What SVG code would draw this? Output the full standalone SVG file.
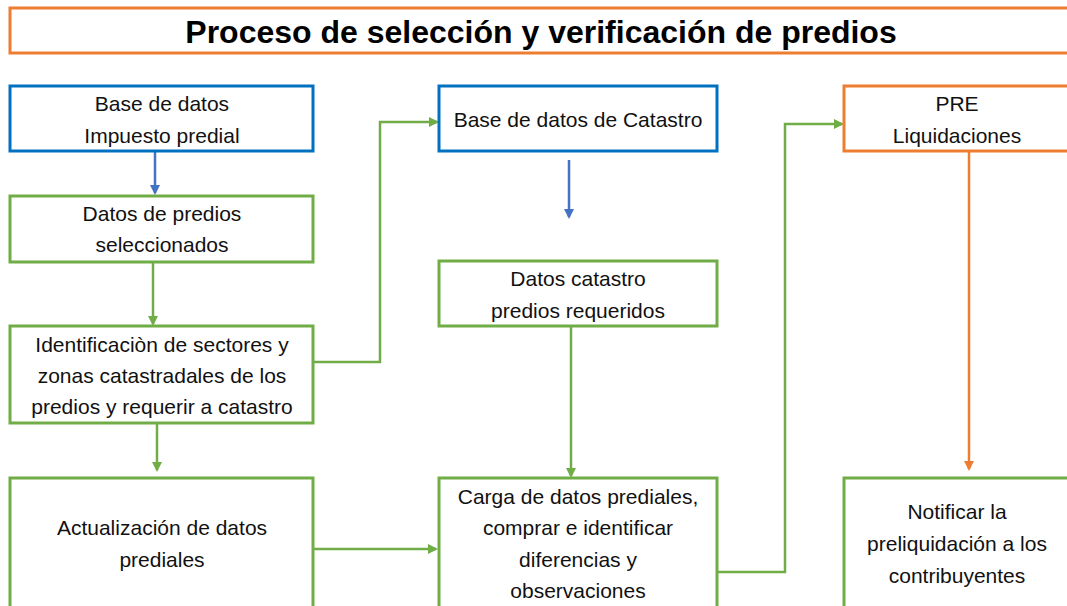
<svg xmlns="http://www.w3.org/2000/svg" width="1067" height="606" viewBox="0 0 1067 606">
<style>
.box{fill:#fff;stroke-width:3}
.b{stroke:#0070C0}
.g{stroke:#70AD47}
.o{stroke:#ED7D31}
.t{font-family:"Liberation Sans",Arial,sans-serif;font-size:21px;fill:#111;text-anchor:middle}
.title{font-family:"Liberation Sans",Arial,sans-serif;font-size:32px;font-weight:bold;fill:#000;text-anchor:middle}
.c{fill:none;stroke-width:2.5}
</style>
<defs>
<marker id="ag" markerWidth="10" markerHeight="10" refX="8" refY="5" orient="auto" markerUnits="userSpaceOnUse"><path d="M0,0 L10,5 L0,10 Z" fill="#70AD47"/></marker>
<marker id="ab" markerWidth="10" markerHeight="10" refX="8" refY="5" orient="auto" markerUnits="userSpaceOnUse"><path d="M0,0 L10,5 L0,10 Z" fill="#4472C4"/></marker>
<marker id="ao" markerWidth="10" markerHeight="10" refX="8" refY="5" orient="auto" markerUnits="userSpaceOnUse"><path d="M0,0 L10,5 L0,10 Z" fill="#ED7D31"/></marker>
</defs>
<rect width="1067" height="606" fill="#fff"/>
<g id="title">
<rect x="10" y="8" width="1075" height="45" fill="#fff" stroke="#ED7D31" stroke-width="3"/>
<text class="title" x="541" y="43">Proceso de selección y verificación de predios</text>
</g>
<g id="connectors">
<line class="c" x1="155" y1="151" x2="155" y2="193" stroke="#4472C4" marker-end="url(#ab)"/>
<line class="c" x1="153" y1="262" x2="153" y2="324" stroke="#70AD47" marker-end="url(#ag)"/>
<polyline class="c" points="313,362 380,362 380,122 437,122" stroke="#70AD47" marker-end="url(#ag)"/>
<line class="c" x1="157" y1="423" x2="157" y2="470" stroke="#70AD47" marker-end="url(#ag)"/>
<line class="c" x1="569" y1="160" x2="569" y2="217" stroke="#4472C4" marker-end="url(#ab)"/>
<line class="c" x1="571" y1="326" x2="571" y2="476" stroke="#70AD47" marker-end="url(#ag)"/>
<line class="c" x1="313" y1="549" x2="436" y2="549" stroke="#70AD47" marker-end="url(#ag)"/>
<polyline class="c" points="717,572 785,572 785,124 842,124" stroke="#70AD47" marker-end="url(#ag)"/>
<line class="c" x1="969" y1="151" x2="969" y2="469" stroke="#ED7D31" marker-end="url(#ao)"/>
</g>
<g id="n1">
<rect class="box b" x="10" y="86" width="303" height="65"/>
<text class="t" x="162" y="111">Base de datos</text>
<text class="t" x="162" y="143">Impuesto predial</text>
</g>
<g id="n2">
<rect class="box g" x="10" y="196" width="303" height="66"/>
<text class="t" x="162" y="221">Datos de predios</text>
<text class="t" x="162" y="252">seleccionados</text>
</g>
<g id="n3">
<rect class="box g" x="10" y="326" width="303" height="97"/>
<text class="t" x="162" y="352">Identificaciòn de sectores y</text>
<text class="t" x="162" y="383">zonas catastradales de los</text>
<text class="t" x="162" y="414">predios y requerir a catastro</text>
</g>
<g id="n5">
<rect class="box g" x="10" y="478" width="303" height="140"/>
<text class="t" x="162" y="535">Actualización de datos</text>
<text class="t" x="162" y="567">prediales</text>
</g>
<g id="n4">
<rect class="box b" x="439" y="86" width="278" height="65"/>
<text class="t" x="578" y="127">Base de datos de Catastro</text>
</g>
<g id="n6">
<rect class="box g" x="439" y="261" width="278" height="65"/>
<text class="t" x="578" y="286">Datos catastro</text>
<text class="t" x="578" y="318">predios requeridos</text>
</g>
<g id="n7">
<rect class="box g" x="439" y="478" width="278" height="140"/>
<text class="t" x="578" y="504">Carga de datos prediales,</text>
<text class="t" x="578" y="535">comprar e identificar</text>
<text class="t" x="578" y="567">diferencias y</text>
<text class="t" x="578" y="598">observaciones</text>
</g>
<g id="n8">
<rect class="box o" x="844" y="86" width="240" height="65"/>
<text class="t" x="957" y="111">PRE</text>
<text class="t" x="957" y="143">Liquidaciones</text>
</g>
<g id="n9">
<rect class="box g" x="844" y="478" width="240" height="140"/>
<text class="t" x="957" y="519">Notificar la</text>
<text class="t" x="957" y="551">preliquidación a los</text>
<text class="t" x="957" y="583">contribuyentes</text>
</g>
</svg>
